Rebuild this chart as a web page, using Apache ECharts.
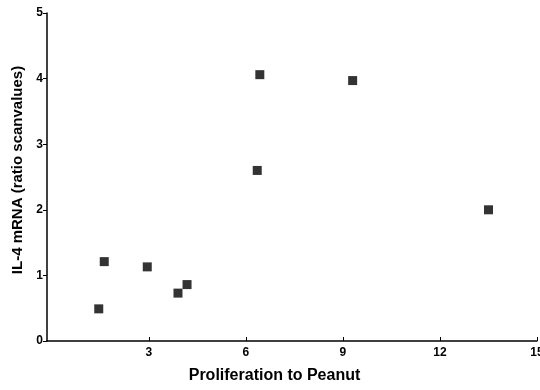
<!DOCTYPE html>
<html>
<head>
<meta charset="utf-8">
<script src="https://cdn.jsdelivr.net/npm/echarts@6/dist/echarts.min.js"></script>
<style>
  html, body { margin: 0; padding: 0; background: #fff; }
  #chart { width: 540px; height: 390px; }
</style>
</head>
<body>
<div id="chart"></div>
<script>
// values
const proliferation = [1.45, 1.62, 2.95, 3.9, 4.18, 6.35, 6.43, 9.3, 13.5];
const il4mrna = [0.49, 1.21, 1.13, 0.73, 0.86, 2.6, 4.06, 3.97, 2.0];
const xTicks = [3, 6, 9, 12, 15];
const yTicks = [0, 1, 2, 3, 4, 5];

const points = proliferation.map((x, i) => [x, il4mrna[i]]);
const font = '"Liberation Sans", Arial, sans-serif';

const chart = echarts.init(document.getElementById('chart'));
chart.setOption({
  animation: false,
  grid: { left: 47, right: 3, top: 13, bottom: 49, outerBoundsMode: 'none' },
  xAxis: {
    type: 'value',
    min: -0.15,
    max: 15,
    name: 'Proliferation to Peanut',
    nameLocation: 'middle',
    nameGap: 27,
    nameTextStyle: {
      color: '#000', fontFamily: font, fontWeight: 'bold', fontSize: 16,
      padding: [0, 35, 0, 0]
    },
    axisLine: { onZero: false, lineStyle: { color: '#000', width: 1.5 } },
    axisTick: { inside: true, length: 4, customValues: xTicks, lineStyle: { color: '#000' } },
    axisLabel: {
      color: '#000', fontFamily: font, fontWeight: 'bold', fontSize: 12, margin: 6,
      customValues: xTicks
    },
    splitLine: { show: false }
  },
  yAxis: {
    type: 'value',
    min: yTicks[0],
    max: yTicks[yTicks.length - 1],
    interval: 1,
    name: 'IL-4 mRNA (ratio scanvalues)',
    nameLocation: 'middle',
    nameGap: 18,
    nameTextStyle: {
      color: '#000', fontFamily: font, fontWeight: 'bold', fontSize: 15,
      padding: [0, 0, 0, 14]
    },
    axisLine: { show: true, onZero: false, lineStyle: { color: '#000', width: 1.5 } },
    axisTick: { show: true, length: 4, lineStyle: { color: '#000' } },
    axisLabel: { color: '#000', fontFamily: font, fontWeight: 'bold', fontSize: 12, margin: 4 },
    splitLine: { show: false }
  },
  series: [{
    type: 'scatter',
    symbol: 'rect',
    symbolSize: 9,
    itemStyle: { color: '#000' },
    data: points
  }]
});
</script>
</body>
</html>
